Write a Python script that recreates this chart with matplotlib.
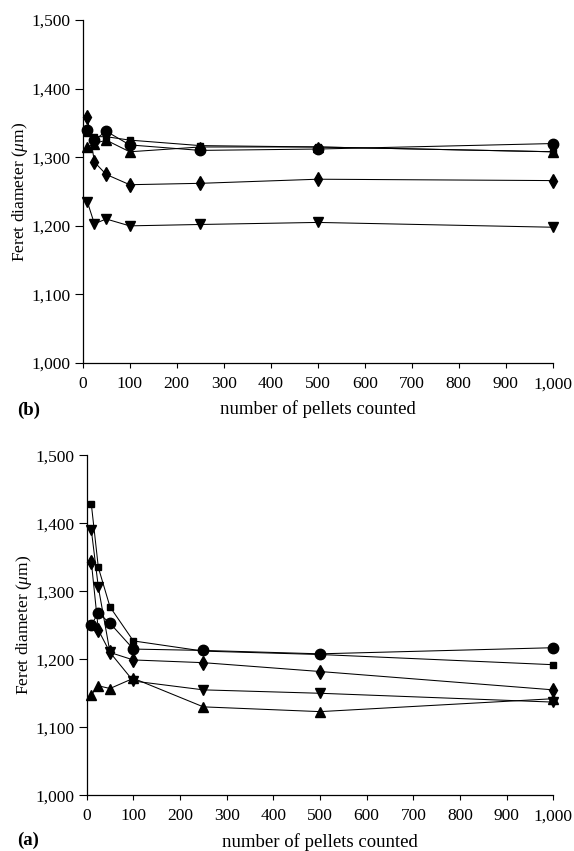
import matplotlib
matplotlib.use('Agg')
import matplotlib.pyplot as plt
from matplotlib.ticker import FuncFormatter

plt.rcParams['font.family'] = ['Liberation Serif', 'DejaVu Serif']
plt.rcParams['mathtext.fontset'] = 'custom'
plt.rcParams['mathtext.it'] = 'Liberation Serif:italic'
plt.rcParams['mathtext.rm'] = 'Liberation Serif'

# pellets counted
counts = [10, 25, 50, 100, 250, 500, 1000]

# panel (b)
b_circle = [1340, 1325, 1338, 1318, 1310, 1312, 1320]
b_square = [1335, 1330, 1330, 1325, 1317, 1315, 1308]
b_diamond = [1359, 1293, 1275, 1260, 1262, 1268, 1266]
b_up = [1315, 1320, 1325, 1308, 1315, 1315, 1308]
b_down = [1235, 1203, 1210, 1200, 1202, 1205, 1198]

# panel (a)
a_circle = [1251, 1268, 1253, 1215, 1213, 1208, 1217]
a_square = [1428, 1335, 1277, 1227, 1212, 1207, 1192]
a_diamond = [1343, 1243, 1210, 1199, 1195, 1182, 1155]
a_up = [1148, 1161, 1157, 1172, 1130, 1123, 1142]
a_down = [1390, 1306, 1210, 1168, 1155, 1150, 1137]

y_ticks = [1000, 1100, 1200, 1300, 1400, 1500]
x_ticks = list(range(0, 1001, 100))

fig = plt.figure(figsize=(5.74, 8.51), dpi=100)
ax_b = fig.add_axes([0.144, 0.5734, 0.819, 0.403])
ax_a = fig.add_axes([0.151, 0.0655, 0.813, 0.3995])

fmt = FuncFormatter(lambda v, p: '{:,}'.format(int(v)))


def draw(ax, circle, square, diamond, up, down):
    kw = dict(color='black', lw=0.75, clip_on=False)
    ax.plot(counts, square, marker='s', ms=4.5, **kw)
    ax.plot(counts, up, marker='^', ms=6.5, **kw)
    ax.plot(counts, down, marker='v', ms=6.5, **kw)
    ax.plot(counts, diamond, marker='d', ms=7, **kw)
    ax.plot(counts, circle, marker='o', ms=7.5, **kw)
    ax.set_xlim(0, 1000)
    ax.set_ylim(1000, 1500)
    ax.set_xticks(x_ticks)
    ax.set_yticks(y_ticks)
    ax.xaxis.set_major_formatter(fmt)
    ax.yaxis.set_major_formatter(fmt)
    for s in ['top', 'right']:
        ax.spines[s].set_visible(False)
    for s in ['left', 'bottom']:
        ax.spines[s].set_linewidth(0.9)
    ax.tick_params(axis='y', direction='out', length=5.5, width=0.8, pad=3, labelsize=12.5)
    ax.tick_params(axis='x', direction='out', length=3.5, width=0.8, pad=6, labelsize=12.5)
    ax.set_ylabel(r'Feret diameter ($\mu$m)', fontsize=12.5, labelpad=1)
    ax.set_xlabel('number of pellets counted', fontsize=13.5, labelpad=6)


draw(ax_b, b_circle, b_square, b_diamond, b_up, b_down)
draw(ax_a, a_circle, a_square, a_diamond, a_up, a_down)

fig.text(17 / 574, 1 - 410 / 851, '(b)', fontsize=13.5, fontweight='bold', va='center')
fig.text(17 / 574, 1 - 840 / 851, '(a)', fontsize=13.5, fontweight='bold', va='center')

fig.savefig('out.png', dpi=100)
